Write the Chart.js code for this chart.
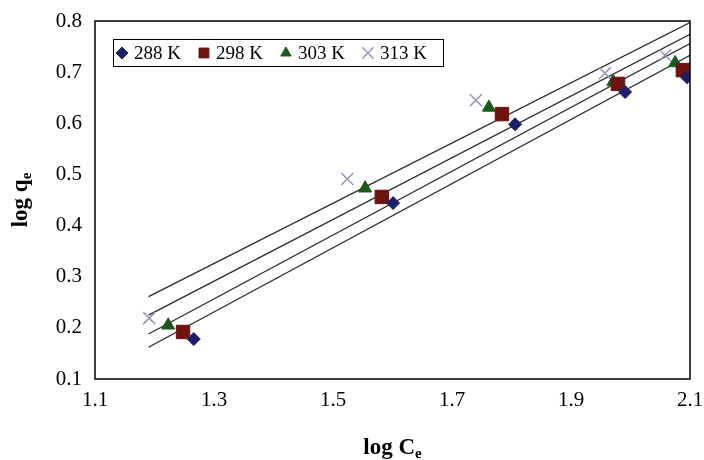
<!DOCTYPE html>
<html>
<head>
<meta charset="utf-8">
<script src="https://cdn.jsdelivr.net/npm/chart.js@4.4.1/dist/chart.umd.min.js"></script>
<style>
  html, body { margin: 0; padding: 0; background: #fff; }
  #wrap { width: 704px; height: 460px; position: relative; }
</style>
</head>
<body>
<div id="wrap"><canvas id="graph"></canvas></div>
<script>
// values
const seriesNames = ['288 K', '298 K', '303 K', '313 K'];
const x288 = [1.266, 1.601, 1.806, 1.991, 2.095];
const y288 = [0.178, 0.444, 0.598, 0.661, 0.690];
const x298 = [1.248, 1.582, 1.784, 1.979, 2.088];
const y298 = [0.192, 0.456, 0.618, 0.677, 0.704];
const x303 = [1.223, 1.554, 1.762, 1.971, 2.075];
const y303 = [0.205, 0.473, 0.631, 0.681, 0.718];
const x313 = [1.191, 1.524, 1.740, 1.957, 2.058];
const y313 = [0.219, 0.491, 0.645, 0.698, 0.733];

// trendline ends (start / end of each fitted line)
const trendX = [1.19, 2.1];
const trend288 = [0.162, 0.733];
const trend298 = [0.188, 0.756];
const trend303 = [0.225, 0.774];
const trend313 = [0.261, 0.797];

const xTicks = [1.1, 1.3, 1.5, 1.7, 1.9, 2.1];
const yTicks = [0.1, 0.2, 0.3, 0.4, 0.5, 0.6, 0.7, 0.8];

const serif = '"Liberation Serif", "Times New Roman", serif';

function pts(xs, ys) {
  return xs.map((x, i) => ({x: x, y: ys[i]}));
}

const markers = [
  {style: 'rectRot', radius: 6.5, color: '#1c2068', border: 1},
  {style: 'rect', radius: 9.5, color: '#6e1212', border: 1},
  {style: 'triangle', radius: 7.5, color: '#1c5a1c', border: 1},
  {style: 'crossRot', radius: 8.5, color: '#9494c4', border: 1.5}
];

const xs = [x288, x298, x303, x313];
const ys = [y288, y298, y303, y313];
const trends = [trend288, trend298, trend303, trend313];

var datasets = [];
for (let k = 0; k < 4; k++) {
  datasets.push({
    type: 'line',
    label: 'trend ' + seriesNames[k],
    data: pts(trendX, trends[k]),
    borderColor: '#2a2a2a',
    borderWidth: 1.3,
    pointRadius: 0,
    showLine: true,
    fill: false,
    order: 10
  });
}
for (let k = 0; k < 4; k++) {
  const m = markers[k];
  datasets.push({
    type: 'scatter',
    label: seriesNames[k],
    data: pts(xs[k], ys[k]),
    pointStyle: m.style,
    pointRadius: m.radius,
    pointHoverRadius: m.radius,
    backgroundColor: m.color,
    borderColor: m.color,
    pointBorderWidth: m.border,
    order: 1
  });
}

function drawSub(ctx, main, sub, cx, cy) {
  ctx.font = 'bold 23px ' + serif;
  const w1 = ctx.measureText(main).width;
  ctx.font = 'bold 15px ' + serif;
  const w2 = ctx.measureText(sub).width;
  const x0 = cx - (w1 + w2) / 2;
  ctx.fillStyle = '#000';
  ctx.textAlign = 'left';
  ctx.textBaseline = 'alphabetic';
  ctx.font = 'bold 23px ' + serif;
  ctx.fillText(main, x0, cy + 7);
  ctx.font = 'bold 15px ' + serif;
  ctx.fillText(sub, x0 + w1, cy + 11);
}

const decor = {
  id: 'decor',
  afterDraw(chart) {
    const ctx = chart.ctx;
    const a = chart.chartArea;
    ctx.save();
    // frame
    ctx.strokeStyle = '#000';
    ctx.lineWidth = 1.5;
    ctx.strokeRect(a.left, a.top, a.right - a.left, a.bottom - a.top);

    // axis titles
    drawSub(ctx, 'log C', 'e', (a.left + a.right) / 2, 447);
    ctx.save();
    ctx.translate(20, (a.top + a.bottom) / 2);
    ctx.rotate(-Math.PI / 2);
    drawSub(ctx, 'log q', 'e', 0, 0);
    ctx.restore();

    // legend box
    ctx.lineWidth = 1;
    ctx.strokeRect(113.5, 39.5, 330, 27);
    let x = 122;
    const y = 53;
    ctx.font = '19px ' + serif;
    ctx.textBaseline = 'middle';
    for (let k = 0; k < 4; k++) {
      const m = markers[k];
      ctx.fillStyle = m.color;
      ctx.strokeStyle = m.color;
      ctx.lineWidth = m.border;
      const r = m.style === 'rect' ? 7 : (m.style === 'crossRot' ? 8 : 6);
      Chart.helpers.drawPoint(ctx, {pointStyle: m.style, radius: r, rotation: 0, borderWidth: m.border}, x, y);
      ctx.fillStyle = '#000';
      ctx.font = '19px ' + serif;
      ctx.textAlign = 'left';
      ctx.fillText(seriesNames[k], x + 12, y + 1);
      x = x + 12 + ctx.measureText(seriesNames[k]).width + 23;
    }
    ctx.restore();
  }
};

const canvas = document.getElementById('graph');
const graph = new Chart(canvas, {
  data: { datasets: datasets },
  options: {
    responsive: true,
    maintainAspectRatio: false,
    animation: false,
    layout: { padding: { left: 0, right: 14, top: 21, bottom: 0 } },
    plugins: {
      legend: { display: false },
      tooltip: { enabled: false }
    },
    scales: {
      x: {
        type: 'linear',
        min: 1.1,
        max: 2.1,
        afterFit: function(s) { s.height = 81; s.paddingLeft = 0; s.paddingRight = 0; },
        afterBuildTicks: function(s) { s.ticks = xTicks.map(v => ({value: v})); },
        grid: { display: false, drawTicks: false },
        border: { display: false },
        ticks: {
          padding: 9,
          color: '#000',
          font: { family: serif, size: 21 },
          callback: v => v.toFixed(1)
        }
      },
      y: {
        type: 'linear',
        min: 0.1,
        max: 0.8,
        afterFit: function(s) { s.width = 95; s.paddingTop = 0; s.paddingBottom = 0; },
        afterBuildTicks: function(s) { s.ticks = yTicks.map(v => ({value: v})); },
        grid: { display: false, drawTicks: false },
        border: { display: false },
        ticks: {
          padding: 13,
          color: '#000',
          font: { family: serif, size: 21 },
          callback: v => v.toFixed(1)
        }
      }
    }
  },
  plugins: [decor]
});
</script>
</body>
</html>
